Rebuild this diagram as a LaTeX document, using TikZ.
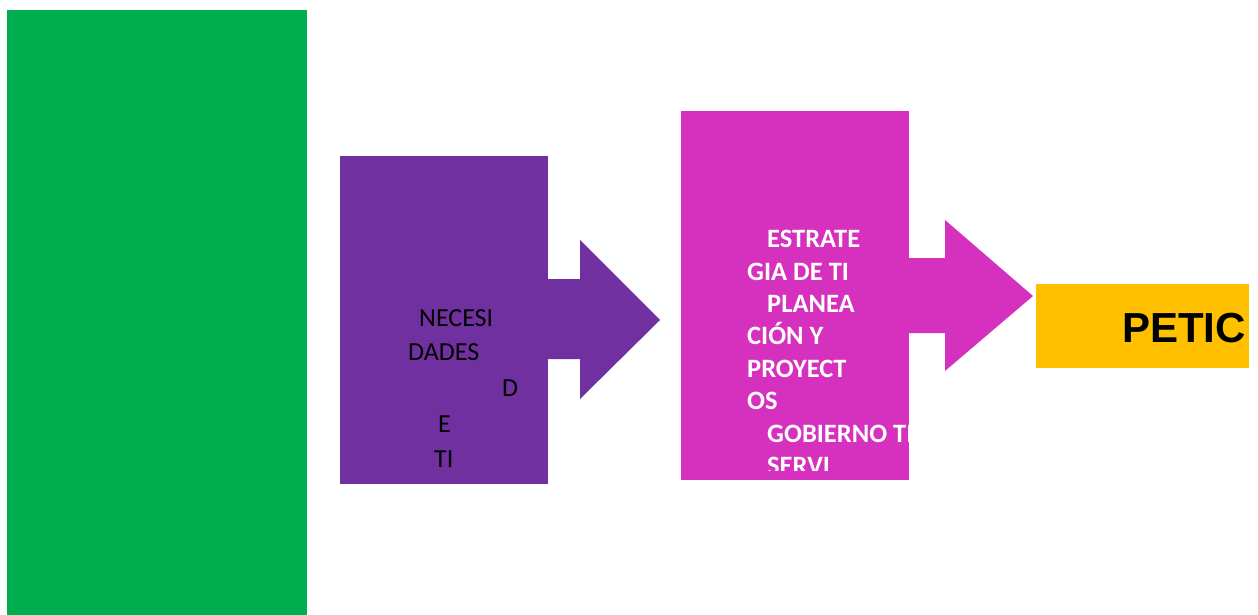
\documentclass[tikz,border=0pt]{standalone}
\usepackage{fontspec}
\setmainfont{Carlito}
\newfontfamily\arialfont{Liberation Sans}
\usepackage{tikz}
\definecolor{verde}{HTML}{00AE50}
\definecolor{morado}{HTML}{7030A0}
\definecolor{fucsia}{HTML}{D631BE}
\definecolor{ambar}{HTML}{FFC000}
\begin{document}
\begin{tikzpicture}
[
    x=1pt, y=-1pt,
    box/.style={draw=none, inner sep=0pt, outer sep=0pt, anchor=north west},
    linea/.style={inner sep=0pt, anchor=base west, font=\fontsize{26}{31}\selectfont},
    blanca/.style={linea, text=white, font=\fontsize{26.5}{31}\selectfont\bfseries},
]
\useasboundingbox (0,0) rectangle (1258,615);
\node [box, fill=verde, minimum width=300pt, minimum height=605pt] (verde) at (7,10) {};
\node [box, fill=morado, minimum width=208pt, minimum height=328pt] (necesidades) at (340,156) {};
\fill [morado] (547,279) -- (580,279) -- (580,240) -- (660,320)
    -- (580,399) -- (580,359) -- (547,359) -- cycle;
\node [box, fill=fucsia, minimum width=228pt, minimum height=369pt] (estrategia) at (681,111) {};
\fill [fucsia] (908,258) -- (945,258) -- (945,220) -- (1033,296)
    -- (945,371) -- (945,333) -- (908,333) -- cycle;
\node [box, fill=ambar, minimum width=213pt, minimum height=84pt] (petic) at (1036,284) {};
% texto morado
\node [linea] (nec1) at (419,326) {NECESI};
\node [linea] (nec2) at (408,360) {DADES};
\node [linea] (nec3) at (502,396) {D};
\node [linea] (nec4) at (438,432) {E};
\node [linea] (nec5) at (434,467) {TI};
% texto fucsia
\begin{scope}
\clip (681,111) rectangle (909,470);
\node [blanca] (est1) at (767,247) {ESTRATE};
\node [blanca] (est2) at (747,280) {GIA DE TI};
\node [blanca] (est3) at (767,312) {PLANEA};
\node [blanca] (est4) at (747,344) {CIÓN Y};
\node [blanca] (est5) at (747,377) {PROYECT};
\node [blanca] (est6) at (747,409) {OS};
\node [blanca] (est7) at (767,442) {GOBIERNO TI};
\node [blanca] (est8) at (767,474) {SERVI};
\end{scope}
\node [inner sep=0pt, anchor=base west, font=\arialfont\bfseries\fontsize{42}{48}\selectfont] (titulo) at (1122,342) {PETIC};
\end{tikzpicture}
\end{document}
